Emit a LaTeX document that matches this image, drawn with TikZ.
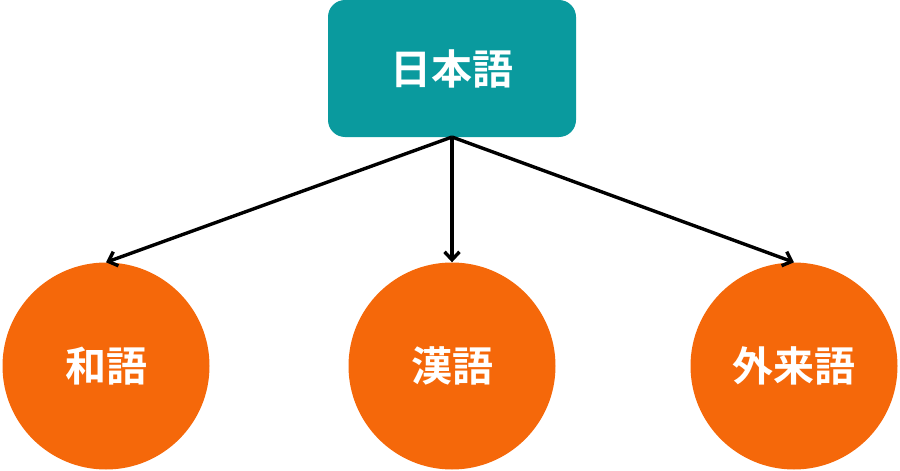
\documentclass[tikz,border=0pt]{standalone}
\usepackage{fontspec}
\newfontfamily\cjk{Noto Sans CJK JP}[BoldFont={Noto Sans CJK JP Bold}]
\usetikzlibrary{arrows.meta}
\definecolor{tealbox}{RGB}{10,154,158}
\definecolor{orangec}{RGB}{245,104,10}
\tikzset{
  topbox/.style={fill=tealbox, rounded corners=17pt, minimum width=248pt, minimum height=137pt, inner sep=0pt, text=white, font=\cjk\bfseries\fontsize{41pt}{41pt}\selectfont},
  leaf/.style={circle, fill=orangec, minimum size=207pt, inner sep=0pt, text=white, font=\cjk\bfseries\fontsize{41pt}{41pt}\selectfont},
  conn/.style={line width=3.4pt, -{Straight Barb[length=8pt,width=15pt,line width=3.4pt]}}
}
\begin{document}
\begin{tikzpicture}[x=1pt,y=-1pt]
\useasboundingbox (0,0) rectangle (900,471);
\node[topbox] (root) at (452,68.5) {日本語};
\node[leaf] (a) at (106,366) {和語};
\node[leaf] (b) at (452,366) {漢語};
\node[leaf] (c) at (794,366) {外来語};
\coordinate (s) at (452,137);
\draw[conn] (s) -- (a.north);
\draw[conn] (s) -- (b.north);
\draw[conn] (s) -- (c.north);
\end{tikzpicture}
\end{document}
